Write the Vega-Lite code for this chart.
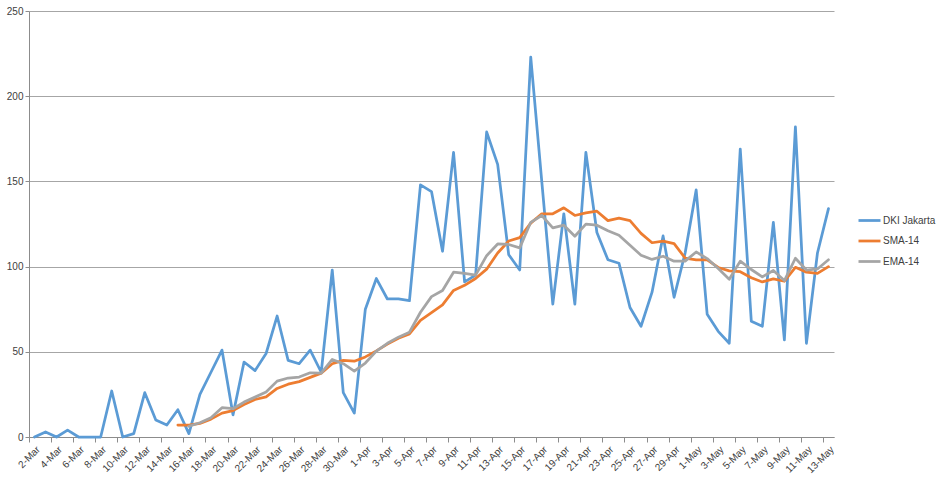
{
  "$schema": "https://vega.github.io/schema/vega-lite/v6.json",
  "autosize": "none",
  "width": 805,
  "height": 426,
  "padding": {"left": 29, "top": 11, "right": 105, "bottom": 44},
  "background": "white",
  "config": {"view": {"stroke": null}, "font": "Liberation Sans"},
  "data": {"values": [
    {"date": "2-Mar", "DKI Jakarta": 0, "SMA-14": null, "EMA-14": null},
    {"date": "3-Mar", "DKI Jakarta": 3, "SMA-14": null, "EMA-14": null},
    {"date": "4-Mar", "DKI Jakarta": 0, "SMA-14": null, "EMA-14": null},
    {"date": "5-Mar", "DKI Jakarta": 4, "SMA-14": null, "EMA-14": null},
    {"date": "6-Mar", "DKI Jakarta": 0, "SMA-14": null, "EMA-14": null},
    {"date": "7-Mar", "DKI Jakarta": 0, "SMA-14": null, "EMA-14": null},
    {"date": "8-Mar", "DKI Jakarta": 0, "SMA-14": null, "EMA-14": null},
    {"date": "9-Mar", "DKI Jakarta": 27, "SMA-14": null, "EMA-14": null},
    {"date": "10-Mar", "DKI Jakarta": 0, "SMA-14": null, "EMA-14": null},
    {"date": "11-Mar", "DKI Jakarta": 2, "SMA-14": null, "EMA-14": null},
    {"date": "12-Mar", "DKI Jakarta": 26, "SMA-14": null, "EMA-14": null},
    {"date": "13-Mar", "DKI Jakarta": 10, "SMA-14": null, "EMA-14": null},
    {"date": "14-Mar", "DKI Jakarta": 7, "SMA-14": null, "EMA-14": null},
    {"date": "15-Mar", "DKI Jakarta": 16, "SMA-14": 7, "EMA-14": null},
    {"date": "16-Mar", "DKI Jakarta": 2, "SMA-14": 7, "EMA-14": 6.3},
    {"date": "17-Mar", "DKI Jakarta": 25, "SMA-14": 8, "EMA-14": 8.4},
    {"date": "18-Mar", "DKI Jakarta": 38, "SMA-14": 10.5, "EMA-14": 11.3},
    {"date": "19-Mar", "DKI Jakarta": 51, "SMA-14": 14, "EMA-14": 17.2},
    {"date": "20-Mar", "DKI Jakarta": 13, "SMA-14": 15.5, "EMA-14": 16.6},
    {"date": "21-Mar", "DKI Jakarta": 44, "SMA-14": 19, "EMA-14": 20.5},
    {"date": "22-Mar", "DKI Jakarta": 39, "SMA-14": 22, "EMA-14": 23.4},
    {"date": "23-Mar", "DKI Jakarta": 49, "SMA-14": 23.5, "EMA-14": 26.4},
    {"date": "24-Mar", "DKI Jakarta": 71, "SMA-14": 28.5, "EMA-14": 32.8},
    {"date": "25-Mar", "DKI Jakarta": 45, "SMA-14": 31, "EMA-14": 34.6},
    {"date": "26-Mar", "DKI Jakarta": 43, "SMA-14": 32.5, "EMA-14": 35.2},
    {"date": "27-Mar", "DKI Jakarta": 51, "SMA-14": 35, "EMA-14": 37.7},
    {"date": "28-Mar", "DKI Jakarta": 38, "SMA-14": 37.5, "EMA-14": 37.5},
    {"date": "29-Mar", "DKI Jakarta": 98, "SMA-14": 43, "EMA-14": 45.5},
    {"date": "30-Mar", "DKI Jakarta": 26, "SMA-14": 45, "EMA-14": 43},
    {"date": "31-Mar", "DKI Jakarta": 14, "SMA-14": 44.5, "EMA-14": 38.7},
    {"date": "1-Apr", "DKI Jakarta": 75, "SMA-14": 47, "EMA-14": 43.4},
    {"date": "2-Apr", "DKI Jakarta": 93, "SMA-14": 50.5, "EMA-14": 50.4},
    {"date": "3-Apr", "DKI Jakarta": 81, "SMA-14": 54.5, "EMA-14": 55},
    {"date": "4-Apr", "DKI Jakarta": 81, "SMA-14": 58, "EMA-14": 58.6},
    {"date": "5-Apr", "DKI Jakarta": 80, "SMA-14": 60.5, "EMA-14": 61.5},
    {"date": "6-Apr", "DKI Jakarta": 148, "SMA-14": 68.5, "EMA-14": 73.2},
    {"date": "7-Apr", "DKI Jakarta": 144, "SMA-14": 73, "EMA-14": 82.4},
    {"date": "8-Apr", "DKI Jakarta": 109, "SMA-14": 77.5, "EMA-14": 86},
    {"date": "9-Apr", "DKI Jakarta": 167, "SMA-14": 86, "EMA-14": 96.7},
    {"date": "10-Apr", "DKI Jakarta": 91, "SMA-14": 89, "EMA-14": 96},
    {"date": "11-Apr", "DKI Jakarta": 95, "SMA-14": 93, "EMA-14": 95},
    {"date": "12-Apr", "DKI Jakarta": 179, "SMA-14": 98.5, "EMA-14": 106.4},
    {"date": "13-Apr", "DKI Jakarta": 160, "SMA-14": 108, "EMA-14": 113.3},
    {"date": "14-Apr", "DKI Jakarta": 107, "SMA-14": 115, "EMA-14": 113},
    {"date": "15-Apr", "DKI Jakarta": 98, "SMA-14": 117, "EMA-14": 111},
    {"date": "16-Apr", "DKI Jakarta": 223, "SMA-14": 125.5, "EMA-14": 126},
    {"date": "17-Apr", "DKI Jakarta": 150, "SMA-14": 131, "EMA-14": 130},
    {"date": "18-Apr", "DKI Jakarta": 78, "SMA-14": 131, "EMA-14": 122.7},
    {"date": "19-Apr", "DKI Jakarta": 131, "SMA-14": 134.5, "EMA-14": 124.3},
    {"date": "20-Apr", "DKI Jakarta": 78, "SMA-14": 130, "EMA-14": 117.8},
    {"date": "21-Apr", "DKI Jakarta": 167, "SMA-14": 131.5, "EMA-14": 124.9},
    {"date": "22-Apr", "DKI Jakarta": 120, "SMA-14": 132.5, "EMA-14": 124.3},
    {"date": "23-Apr", "DKI Jakarta": 104, "SMA-14": 127, "EMA-14": 121},
    {"date": "24-Apr", "DKI Jakarta": 102, "SMA-14": 128.5, "EMA-14": 118.4},
    {"date": "25-Apr", "DKI Jakarta": 76, "SMA-14": 127, "EMA-14": 112.5},
    {"date": "26-Apr", "DKI Jakarta": 65, "SMA-14": 119.5, "EMA-14": 106.7},
    {"date": "27-Apr", "DKI Jakarta": 85, "SMA-14": 114, "EMA-14": 104.2},
    {"date": "28-Apr", "DKI Jakarta": 118, "SMA-14": 115, "EMA-14": 106.1},
    {"date": "29-Apr", "DKI Jakarta": 82, "SMA-14": 113.5, "EMA-14": 103.2},
    {"date": "30-Apr", "DKI Jakarta": 108, "SMA-14": 105, "EMA-14": 103.2},
    {"date": "1-May", "DKI Jakarta": 145, "SMA-14": 104, "EMA-14": 108.6},
    {"date": "2-May", "DKI Jakarta": 72, "SMA-14": 104, "EMA-14": 104.7},
    {"date": "3-May", "DKI Jakarta": 62, "SMA-14": 99.5, "EMA-14": 98.9},
    {"date": "4-May", "DKI Jakarta": 55, "SMA-14": 97.5, "EMA-14": 92.6},
    {"date": "5-May", "DKI Jakarta": 169, "SMA-14": 97, "EMA-14": 103.2},
    {"date": "6-May", "DKI Jakarta": 68, "SMA-14": 93.5, "EMA-14": 98.3},
    {"date": "7-May", "DKI Jakarta": 65, "SMA-14": 91, "EMA-14": 94},
    {"date": "8-May", "DKI Jakarta": 126, "SMA-14": 92.8, "EMA-14": 97.7},
    {"date": "9-May", "DKI Jakarta": 57, "SMA-14": 91.4, "EMA-14": 91.8},
    {"date": "10-May", "DKI Jakarta": 182, "SMA-14": 99.6, "EMA-14": 104.9},
    {"date": "11-May", "DKI Jakarta": 55, "SMA-14": 96.7, "EMA-14": 98},
    {"date": "12-May", "DKI Jakarta": 108, "SMA-14": 96, "EMA-14": 98.6},
    {"date": "13-May", "DKI Jakarta": 134, "SMA-14": 100, "EMA-14": 104}
  ]},
  "transform": [{"fold": ["DKI Jakarta", "SMA-14", "EMA-14"], "as": ["series", "value"]}],
  "mark": {"type": "line", "strokeWidth": 2.75, "strokeJoin": "round", "strokeCap": "round"},
  "encoding": {
    "x": {
      "field": "date", "type": "ordinal", "sort": null,
      "scale": {"type": "point", "padding": 0.5},
      "axis": {
        "title": null,
        "values": ["2-Mar","4-Mar","6-Mar","8-Mar","10-Mar","12-Mar","14-Mar","16-Mar","18-Mar","20-Mar","22-Mar","24-Mar","26-Mar","28-Mar","30-Mar","1-Apr","3-Apr","5-Apr","7-Apr","9-Apr","11-Apr","13-Apr","15-Apr","17-Apr","19-Apr","21-Apr","23-Apr","25-Apr","27-Apr","29-Apr","1-May","3-May","5-May","7-May","9-May","11-May","13-May"],
        "labelAngle": -45, "labelFontSize": 10, "labelColor": "#404040",
        "domainColor": "#8c8c8c", "tickColor": "#8c8c8c", "tickSize": 5,
        "tickOffset": -5.5, "labelOffset": 5.5, "labelPadding": 2, "grid": false
      }
    },
    "y": {
      "field": "value", "type": "quantitative",
      "scale": {"domain": [0, 250]},
      "axis": {
        "title": null, "values": [0, 50, 100, 150, 200, 250],
        "gridColor": "#a6a6a6", "domainColor": "#8c8c8c", "tickColor": "#8c8c8c", "tickSize": 4,
        "labelFontSize": 10, "labelColor": "#404040", "labelPadding": 2
      }
    },
    "color": {
      "field": "series", "type": "nominal",
      "scale": {"domain": ["DKI Jakarta", "SMA-14", "EMA-14"], "range": ["#5B9BD5", "#ED7D31", "#A5A5A5"]},
      "legend": {
        "title": null, "orient": "none", "legendX": 828, "legendY": 197,
        "symbolType": "stroke", "symbolSize": 484, "symbolStrokeWidth": 2.75,
        "labelFontSize": 10, "labelColor": "#404040", "rowPadding": 2.5, "labelOffset": 1
      }
    }
  }
}
